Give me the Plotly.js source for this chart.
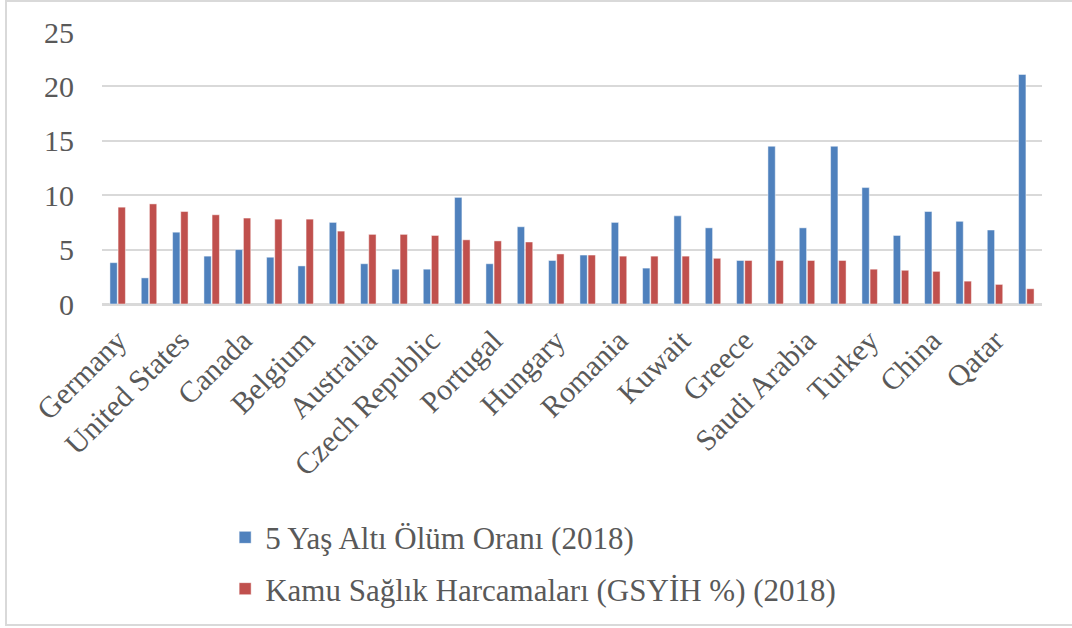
<!DOCTYPE html>
<html>
<head>
<meta charset="utf-8">
<script src="https://cdn.plot.ly/plotly-3.0.1.min.js"></script>
<style>
  html, body { margin: 0; padding: 0; background: #ffffff; overflow: hidden; }
  #chart { position: absolute; left: 0; top: 0; width: 1072px; height: 628px; }
  #frame { position: absolute; left: 5px; top: 0px; width: 1100px; height: 626px;
           box-sizing: border-box; border: 2px solid #d9d9d9; pointer-events: none; }
</style>
</head>
<body>
<div id="chart"></div>
<div id="frame"></div>
<script>
// 30 country groups; only every other one carries a visible label in the reference.
const categories = [
  "Germany", "unlabeled-02", "United States", "unlabeled-04", "Canada",
  "unlabeled-06", "Belgium", "unlabeled-08", "Australia", "unlabeled-10",
  "Czech Republic", "unlabeled-12", "Portugal", "unlabeled-14", "Hungary",
  "unlabeled-16", "Romania", "unlabeled-18", "Kuwait", "unlabeled-20",
  "Greece", "unlabeled-22", "Saudi Arabia", "unlabeled-24", "Turkey",
  "unlabeled-26", "China", "unlabeled-28", "Qatar", "unlabeled-30"
];

const tickLabels = [
  "Germany", "United States", "Canada", "Belgium", "Australia",
  "Czech Republic", "Portugal", "Hungary", "Romania", "Kuwait",
  "Greece", "Saudi Arabia", "Turkey", "China", "Qatar"
];

const under5Mortality = [
  3.8, 2.4, 6.6, 4.4, 5.0, 4.3, 3.5, 7.5, 3.7, 3.2,
  3.2, 9.8, 3.7, 7.1, 4.0, 4.5, 7.5, 3.3, 8.1, 7.0,
  4.0, 14.5, 7.0, 14.5, 10.7, 6.3, 8.5, 7.6, 6.8, 21.1
];

const publicHealthSpending = [
  8.9, 9.2, 8.5, 8.2, 7.9, 7.8, 7.8, 6.7, 6.4, 6.4,
  6.3, 5.9, 5.8, 5.7, 4.6, 4.5, 4.4, 4.4, 4.4, 4.2,
  4.0, 4.0, 4.0, 4.0, 3.2, 3.1, 3.0, 2.1, 1.8, 1.4
];

const seriesNames = [
  "5 Yaş Altı Ölüm Oranı (2018)",
  "Kamu Sağlık Harcamaları (GSYİH %) (2018)"
];

const yTicks = [0, 5, 10, 15, 20, 25];

const font = "'Liberation Serif', 'Times New Roman', serif";
const textColor = "#595959";
const gridColor = "#d9d9d9";

const traces = [
  {
    type: "bar", name: seriesNames[0], x: categories, y: under5Mortality,
    marker: { color: "#4f81bd", line: { color: "rgba(255,255,255,0.6)", width: 0.8 } },
    legendgroup: "a", hoverinfo: "x+y"
  },
  {
    type: "bar", name: seriesNames[1], x: categories, y: publicHealthSpending,
    marker: { color: "#c0504d", line: { color: "rgba(255,255,255,0.6)", width: 0.8 } },
    legendgroup: "b", hoverinfo: "x+y"
  }
];

const layout = {
  width: 1072, height: 628,
  margin: { l: 102, r: 30, t: 32, b: 322, pad: 0 },
  paper_bgcolor: "rgba(0,0,0,0)", plot_bgcolor: "#ffffff",
  barmode: "group", bargap: 0.48, bargroupgap: 0.1,
  font: { family: font, color: textColor, size: 30 },
  xaxis: {
    type: "category",
    tickmode: "array", tickvals: tickLabels, ticktext: tickLabels,
    tickangle: -45, ticks: "", showgrid: false, ticklabelstandoff: 5,
    showline: true, linecolor: gridColor, linewidth: 2,
    tickfont: { family: font, color: textColor, size: 30 },
    fixedrange: true
  },
  yaxis: {
    range: [0, 25], tickmode: "array", tickvals: yTicks,
    showgrid: true, gridcolor: gridColor, gridwidth: 2,
    zeroline: true, zerolinecolor: gridColor, zerolinewidth: 2,
    showline: false, ticks: "", ticklabelstandoff: 27,
    tickfont: { family: font, color: textColor, size: 30 },
    fixedrange: true
  },
  showlegend: true,
  legend: {
    orientation: "v", x: 0.131, xanchor: "left", y: -0.76, yanchor: "top",
    traceorder: "grouped", tracegroupgap: 8,
    font: { family: font, color: textColor, size: 31 },
    bgcolor: "rgba(0,0,0,0)", itemclick: false, itemdoubleclick: false
  }
};

Plotly.newPlot("chart", traces, layout, { displayModeBar: false, staticPlot: true });
</script>
</body>
</html>
